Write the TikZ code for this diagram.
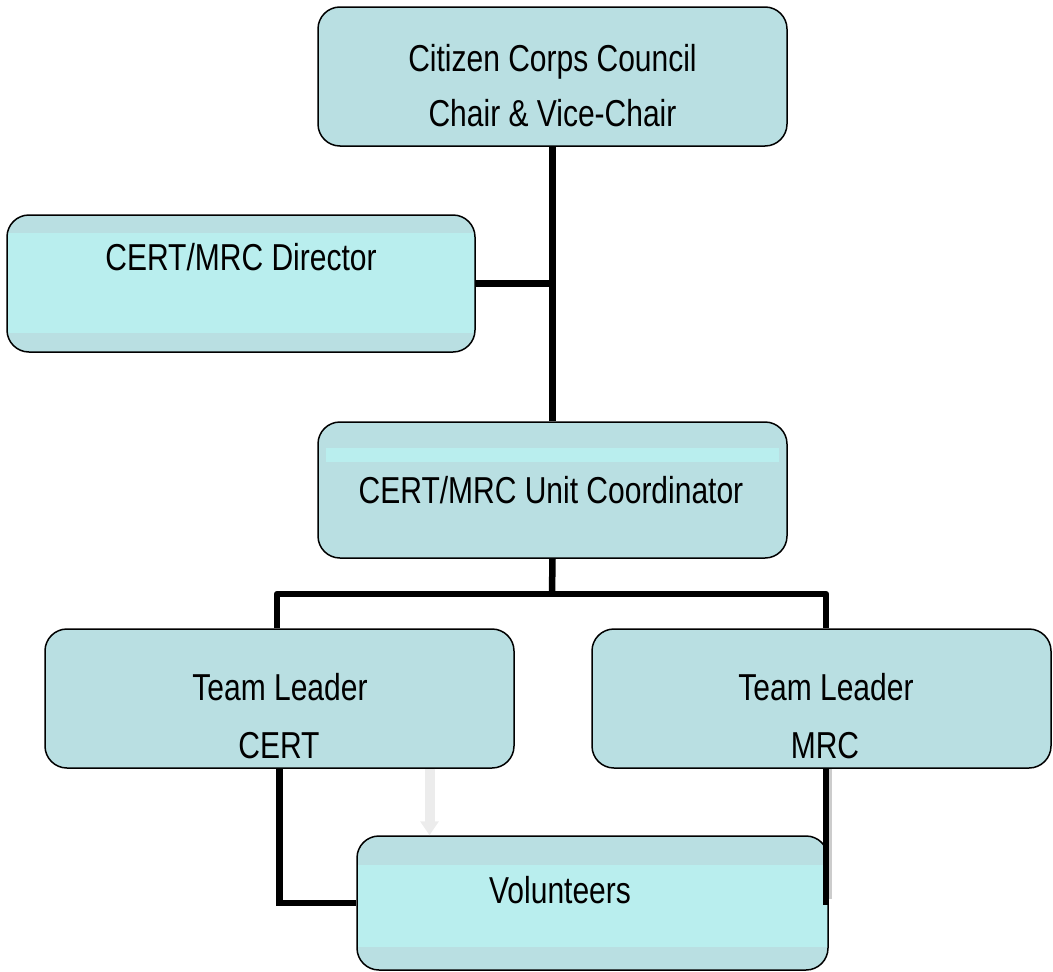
\documentclass[tikz,border=0pt]{standalone}
\usepackage{fontspec}
\setmainfont[FakeStretch=0.8]{Liberation Sans}
\usetikzlibrary{arrows.meta}
\definecolor{boxfill}{HTML}{B9DFE2}
\definecolor{bandfill}{HTML}{B9EEEE}
\tikzset{
  box/.style={draw=black, line width=1.5pt, fill=boxfill, rounded corners=22pt, inner sep=0pt},
  band/.style={fill=bandfill, sharp corners},
  lbl/.style={anchor=base, font=\fontsize{37.5}{40}\selectfont, inner sep=0pt},
  conn/.style={line width=6.5pt},
  shadowline/.style={line width=5pt, draw=gray!40},
  grayarrow/.style={draw=gray!15, line width=10pt, -{Triangle[width=18pt,length=14pt]}},
}
\begin{document}
\begin{tikzpicture}[x=1pt,y=-1pt]
\useasboundingbox (0,0) rectangle (1053,972);
% boxes
\node[box, minimum width=469pt, minimum height=139pt] (top) at (552.5,76.5) {};
\node[box, minimum width=468pt, minimum height=137pt,
  path picture={\fill[band] ([yshift=-18pt]path picture bounding box.north west) rectangle ([yshift=19pt]path picture bounding box.south east);}] (dir) at (241,283.5) {};
\node[box, minimum width=469pt, minimum height=136pt,
  path picture={\fill[band] ([xshift=8pt,yshift=-26pt]path picture bounding box.north west) rectangle ([xshift=-8pt,yshift=-40pt]path picture bounding box.north east);}] (coord) at (552.5,490) {};
\node[box, minimum width=469pt, minimum height=139pt] (tlc) at (279.5,698.5) {};
\node[box, minimum width=459pt, minimum height=139pt] (tlm) at (821.5,698.5) {};
\node[box, minimum width=471pt, minimum height=134pt,
  path picture={\fill[band] ([yshift=-29pt]path picture bounding box.north west) rectangle ([yshift=23pt]path picture bounding box.south east);}] (vol) at (592.5,903) {};
% labels
\node[lbl] (t1) at (552.5,71) {Citizen Corps Council};
\node[lbl] (t2) at (552.5,126) {Chair \& Vice-Chair};
\node[lbl] (t3) at (241,270) {CERT/MRC Director};
\node[lbl] (t4) at (551,503) {CERT/MRC Unit Coordinator};
\node[lbl] (t5) at (280,700) {Team Leader};
\node[lbl] (t6) at (279,758) {CERT};
\node[lbl] (t7) at (826,700) {Team Leader};
\node[lbl] (t8) at (825,758) {MRC};
\node[lbl] (t9) at (560,903) {Volunteers};
% connectors
\coordinate (bar) at (552,594);
\coordinate (barL) at (277,594);
\coordinate (barR) at (826,594);
\coordinate (mrcend) at (826,905);
\draw[conn] (top.south) -- (coord.north);
\draw[conn] (dir.east) -- (dir.east -| top.south);
\draw[conn] (coord.south) -- (bar);
\draw[conn, line join=round] (barL |- tlc.north) -- (barL) -- (barR) -- (barR |- tlm.north);
\draw[conn] (tlc.south) |- (vol.west);
\draw[shadowline] ([xshift=3.5pt]barR |- tlm.south) -- ([shift={(3.5pt,6pt)}]mrcend);
\draw[conn] (barR |- tlm.south) -- (mrcend);
\draw[grayarrow] ([xshift=150pt]tlc.south) -- ([xshift=150pt]tlc.south |- vol.north);
\end{tikzpicture}
\end{document}
